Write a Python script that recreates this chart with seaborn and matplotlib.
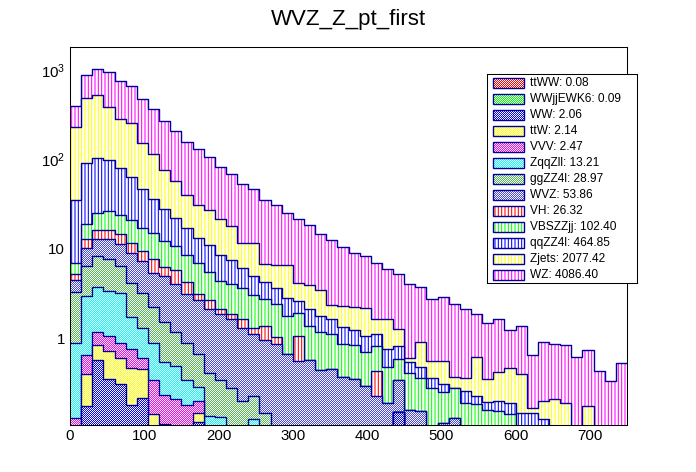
import numpy as np
import seaborn as sns
import matplotlib.pyplot as plt
from matplotlib.colors import to_rgb
from matplotlib.patches import Rectangle, PathPatch
from matplotlib.path import Path
from matplotlib.ticker import FixedLocator, FixedFormatter, MultipleLocator, LogLocator, NullFormatter

# binning of WVZ_Z_pt_first (50 bins, 0-750)
bin_edges = list(range(0, 751, 15))
bin_centers = [e + 7.5 for e in bin_edges[:-1]]

# legend entries, bottom of stack first
processes = ["ttWW", "WWjjEWK6", "WW", "ttW", "VVV", "ZqqZll", "ggZZ4l",
             "WVZ", "VH", "VBSZZjj", "qqZZ4l", "Zjets", "WZ"]
yields = [0.08, 0.09, 2.06, 2.14, 2.47, 13.21, 28.97, 53.86, 26.32,
          102.40, 464.85, 2077.42, 4086.40]

# stacked height (top edge of each process) per bin
# 0 = nothing visible for that process in the bin
top_ttWW = [0, 0.004, 0.006, 0.005, 0.004, 0.003, 0.002, 0, 0, 0,
            0, 0, 0, 0, 0, 0, 0, 0, 0, 0, 0, 0, 0, 0, 0,
            0, 0, 0, 0, 0, 0, 0, 0, 0, 0, 0, 0, 0, 0, 0,
            0, 0, 0, 0, 0, 0, 0, 0, 0, 0]
top_WWjj = [0, 0.008, 0.012, 0.01, 0.008, 0.006, 0.004, 0.003, 0, 0,
            0, 0, 0, 0, 0, 0, 0, 0, 0, 0, 0, 0, 0, 0, 0,
            0, 0, 0, 0, 0, 0, 0, 0, 0, 0, 0, 0, 0, 0, 0,
            0, 0, 0, 0, 0, 0, 0, 0, 0, 0]
top_WW = [0, 0.175, 0.57, 0.35, 0.305, 0.18, 0.213, 0, 0, 0,
          0, 0.115, 0, 0, 0, 0, 0, 0, 0, 0, 0, 0, 0, 0, 0,
          0, 0, 0, 0, 0.152, 0, 0, 0, 0, 0, 0, 0, 0, 0, 0,
          0, 0, 0, 0, 0, 0, 0, 0, 0, 0]
top_ttW = [0, 0.40, 0.84, 0.72, 0.60, 0.462, 0.45, 0.141, 0.11, 0,
           0, 0.145, 0, 0, 0, 0, 0, 0, 0, 0, 0, 0, 0, 0, 0,
           0, 0, 0, 0, 0, 0, 0, 0, 0, 0, 0, 0, 0, 0, 0,
           0, 0, 0, 0, 0, 0, 0, 0, 0, 0]
top_VVV = [0.128, 0.65, 1.19, 1.06, 0.879, 0.753, 0.608, 0.342, 0.232, 0.21,
           0.18, 0.199, 0, 0, 0, 0, 0, 0, 0, 0, 0, 0, 0, 0, 0,
           0, 0, 0, 0, 0, 0, 0, 0, 0, 0, 0, 0, 0, 0, 0,
           0, 0, 0, 0, 0, 0, 0, 0, 0, 0]
top_ZqqZll = [0.88, 2.97, 3.78, 3.38, 3.2, 1.74, 1.29, 0.879, 0.548, 0.49,
              0.342, 0.283, 0.136, 0.131, 0, 0, 0.126, 0, 0, 0, 0, 0, 0, 0, 0,
              0, 0, 0, 0, 0, 0, 0, 0, 0, 0, 0, 0, 0, 0, 0,
              0, 0, 0, 0, 0, 0, 0, 0, 0, 0]
top_ggZZ4l = [3.3, 6.43, 8.3, 7.6, 6.5, 4.19, 3.24, 2.26, 1.53, 1.19,
              0.879, 0.668, 0.413, 0.342, 0.276, 0.201, 0.227, 0.145, 0, 0,
              0, 0, 0, 0, 0, 0, 0, 0, 0, 0, 0, 0, 0, 0, 0,
              0, 0, 0, 0, 0, 0, 0, 0, 0, 0, 0, 0, 0, 0, 0]
top_WVZ = [4.45, 10.3, 13.0, 12.8, 11.4, 9.06, 7.3, 5.42, 4.97, 4.01,
           3.10, 2.66, 2.11, 1.85, 1.66, 1.31, 1.11, 0.957, 0.857, 0.668,
           0.557, 0.573, 0.443, 0.458, 0.367, 0.348, 0.291, 0.227, 0.188, 0.340,
           0.158, 0.153, 0, 0.114, 0.128, 0, 0, 0, 0, 0,
           0, 0, 0, 0, 0, 0, 0, 0, 0, 0]
top_VH = [5.28, 13.0, 16.1, 16.1, 14.5, 11.7, 9.46, 7.77, 6.21, 5.75,
          4.26, 3.10, 2.68, 2.11, 1.85, 1.66, 1.31, 1.37, 1.04, 0,
          1.06, 0, 0, 0, 0, 0, 0, 0.431, 0, 0,
          0, 0, 0, 0, 0, 0, 0, 0, 0, 0,
          0, 0, 0, 0, 0, 0, 0, 0, 0, 0]
top_VBSZZjj = [7.0, 19.1, 25.4, 26.2, 24.1, 21.0, 17.2, 14.9, 12.2, 10.8,
               8.46, 7.0, 5.5, 4.33, 4.08, 3.62, 3.02, 2.73, 2.4, 1.78,
               1.94, 1.37, 1.18, 1.11, 0.857, 0.835, 0.710, 0.828, 0.474, 0.582,
               0.413, 0.357, 0.276, 0.249, 0.279, 0.191, 0.183, 0.160, 0.154, 0.141,
               0, 0, 0, 0, 0, 0, 0, 0, 0, 0]
top_qqZZ4l = [35, 90, 104, 97.5, 80.7, 63.5, 47, 36.3, 27.6, 22.3,
              16.9, 13.3, 11.0, 8.46, 7.44, 6.16, 4.97, 4.26, 3.62, 2.84,
              2.59, 2.11, 1.78, 1.63, 1.33, 1.23, 1.05, 1.12, 0.753, 0.814,
              0.539, 0.474, 0.357, 0.306, 0.279, 0.256, 0.225, 0.193, 0.199, 0.191,
              0.145, 0.145, 0.126, 0, 0, 0, 0, 0, 0, 0]
top_Zjets = [230, 481, 528, 388, 280, 253, 153, 114, 76, 56.8,
             39.6, 30.6, 27.2, 21.4, 18.0, 11.7, 11.5, 6.71, 6.60, 6.54,
             4.12, 3.91, 3.44, 2.34, 2.30, 2.24, 2.16, 1.63, 1.63, 1.26,
             0.598, 0.918, 0.553, 0.553, 0.373, 0.357, 0.613, 0.348, 0.420, 0.462,
             0.396, 0.165, 0.199, 0.210, 0.188, 0, 0.174, 0, 0, 0]
top_WZ = [394, 868, 1030, 946, 750, 658, 468, 362, 268, 206,
          157, 129, 106, 82.8, 69.2, 53.5, 46.2, 34.8, 30.6, 25.4,
          21.4, 18.3, 14.5, 12.4, 10.4, 8.91, 8.39, 6.89, 5.96, 5.19,
          4.01, 3.71, 2.73, 2.90, 2.44, 2.11, 1.85, 1.47, 1.63, 1.24,
          1.37, 0.651, 0.901, 0.864, 0.834, 0.613, 0.734, 0.431, 0.334, 0.530]

colors = ["#ff0000", "#00ff00", "#0000ff", "#ffff00", "#ff00ff", "#00ffff",
          "#55bb55", "#4646e6", "#ff0000", "#00ff00", "#0000ff", "#ffff00", "#ff00ff"]
# first eight are ROOT dot patterns, the rest vertical lines
dotted = [True] * 8 + [False] * 5
LINE = "#000099"
FLOOR = 1e-3

stack = np.vstack([top_ttWW, top_WWjj, top_WW, top_ttW, top_VVV, top_ZqqZll,
                   top_ggZZ4l, top_WVZ, top_VH, top_VBSZZjj, top_qqZZ4l,
                   top_Zjets, top_WZ])
stack = np.maximum.accumulate(np.maximum(stack, FLOOR), axis=0)


def checker(color, h, w):
    img = np.ones((h, w, 3))
    mask = np.add.outer(np.arange(h), np.arange(w)) % 2 == 0
    img[mask] = to_rgb(color)
    return img


def step_path(tops):
    verts = []
    for j, t in enumerate(tops):
        verts += [(bin_edges[j], t), (bin_edges[j + 1], t)]
    verts += [(bin_edges[-1], FLOOR), (bin_edges[0], FLOOR), verts[0]]
    return Path(verts, closed=True)


sns.set_theme(style="white")
plt.rcParams["font.family"] = ["Liberation Sans", "DejaVu Sans"]
plt.rcParams["text.color"] = "black"
plt.rcParams["mathtext.fontset"] = "custom"
plt.rcParams["mathtext.rm"] = "Liberation Sans"
plt.rcParams["mathtext.default"] = "regular"
plt.rcParams["hatch.linewidth"] = 0.75

fig = plt.figure(figsize=(6.96, 4.72), dpi=100)
# pixel aligned frame so the dot pattern maps 1:1 onto the screen
AX_W, AX_H = 557, 378
ax = fig.add_axes([70 / 696, 47 / 472, AX_W / 696, AX_H / 472])
ax.set_yscale("log")

# ROOT style: every histogram filled from zero, top of stack first
z = 1.0
for i in reversed(range(len(processes))):
    if dotted[i]:
        im = ax.imshow(checker(colors[i], AX_H, AX_W), extent=(0, 1, 0, 1),
                       transform=ax.transAxes, interpolation="nearest",
                       aspect="auto", zorder=z)
        im.set_clip_path(PathPatch(step_path(stack[i]), transform=ax.transData))
    else:
        sns.histplot(x=bin_centers, weights=list(stack[i]), bins=bin_edges,
                     element="bars", fill=True, facecolor="white",
                     edgecolor=colors[i], hatch="|||||", linewidth=0,
                     antialiased=False, zorder=z, ax=ax)
    sns.histplot(x=bin_centers, weights=list(stack[i]), bins=bin_edges,
                 element="step", fill=False, color=LINE, linewidth=1.0,
                 zorder=z + 0.5, ax=ax)
    z += 1

ax.set_xlim(0, 750)
ax.set_ylim(0.1075, 1798)
ax.set_xlabel("")
ax.set_ylabel("")

ax.xaxis.set_major_locator(MultipleLocator(100))
ax.xaxis.set_minor_locator(MultipleLocator(20))
ax.yaxis.set_major_locator(FixedLocator([1, 10, 100, 1000]))
ax.yaxis.set_major_formatter(FixedFormatter(["1", "10", r"$10^{2}$", r"$10^{3}$"]))
ax.yaxis.set_minor_locator(LogLocator(base=10, subs=np.arange(2, 10)))
ax.yaxis.set_minor_formatter(NullFormatter())
ax.tick_params(which="both", direction="in", top=False, right=False,
               width=0.75, color="black", labelsize=10.8, labelcolor="black")
ax.tick_params(axis="x", which="major", length=8.6, pad=3)
ax.tick_params(axis="x", which="minor", length=4.3)
ax.tick_params(axis="y", which="major", length=12, pad=3.6)
ax.tick_params(axis="y", which="minor", length=6)
for sp in ax.spines.values():
    sp.set_color("black")
    sp.set_linewidth(0.75)
    sp.set_zorder(100)
for t in ax.yaxis.get_major_ticks() + ax.xaxis.get_major_ticks():
    t.tick1line.set_zorder(100)

fig.text(0.5, 1 - 20 / 472, "WVZ_Z_pt_first", ha="center", va="center",
         fontsize=16, color="black")

# legend box
LG_W, LG_H = 150, 209
lax = fig.add_axes([487 / 696, (472 - 283) / 472, LG_W / 696, LG_H / 472])
lax.set_xlim(0, LG_W)
lax.set_ylim(LG_H, 0)
lax.set_xticks([])
lax.set_yticks([])
lax.set_facecolor("white")
for sp in lax.spines.values():
    sp.set_color("black")
    sp.set_linewidth(0.75)
for i, name in enumerate(processes):
    yc = 9 + 16 * i
    if dotted[i]:
        im = lax.imshow(checker(colors[i], LG_H, LG_W), extent=(0, 1, 0, 1),
                        transform=lax.transAxes, interpolation="nearest", aspect="auto")
        im.set_clip_path(Rectangle((6, yc - 5), 31, 10, transform=lax.transData))
    else:
        lax.add_patch(Rectangle((6, yc - 5), 31, 10, facecolor="white",
                                edgecolor=colors[i], hatch="|||||", linewidth=0))
    lax.add_patch(Rectangle((6, yc - 5), 31, 10, fill=False, edgecolor=LINE,
                            linewidth=1.0, zorder=5))
    lax.text(43, yc, f"{name}: {yields[i]:.2f}", va="center", ha="left", fontsize=8.6)
lax.set_xlim(0, LG_W)
lax.set_ylim(LG_H, 0)

fig.savefig("out.png", dpi=100)
